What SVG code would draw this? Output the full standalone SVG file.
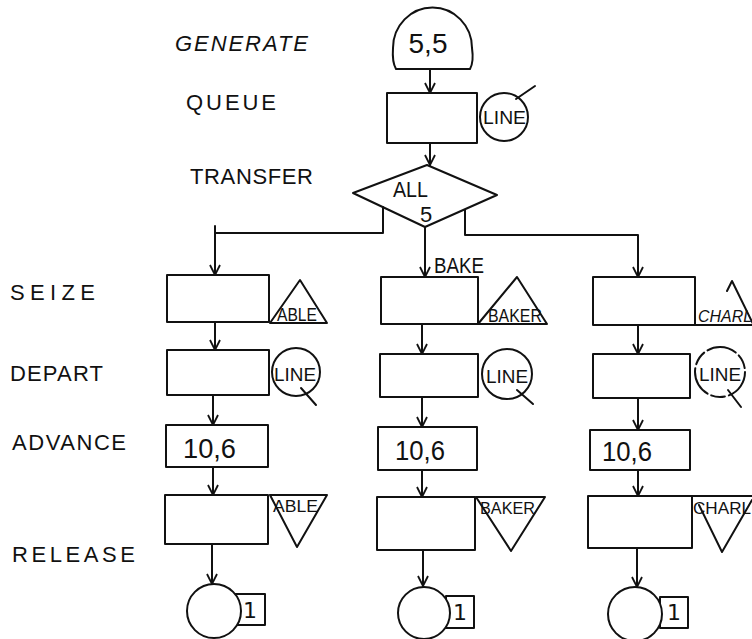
<svg xmlns="http://www.w3.org/2000/svg" width="752" height="639" viewBox="0 0 752 639">
  <defs>
    <marker id="arr" viewBox="0 0 12 12" refX="11" refY="6" markerWidth="12" markerHeight="12" orient="auto" markerUnits="userSpaceOnUse">
      <path d="M1,1 L11,6 L1,11" fill="none" stroke="#111" stroke-width="1.8"/>
    </marker>
    <style>
      .ln { fill: none; stroke: #111; stroke-width: 2; stroke-linejoin: round; stroke-linecap: round; }
      .fl { fill: #fff; stroke: #111; stroke-width: 2; }
      .lab { font-family: "Liberation Sans", "DejaVu Sans", sans-serif; font-size: 22px; fill: #111; }
      .big { font-family: "Liberation Sans", "DejaVu Sans", sans-serif; font-size: 28px; fill: #111; }
      .sm { font-family: "Liberation Sans", "DejaVu Sans", sans-serif; font-size: 18px; fill: #111; }
      .xs { font-family: "Liberation Sans", "DejaVu Sans", sans-serif; font-size: 16px; fill: #111; }
      .one { font-family: "DejaVu Sans", sans-serif; font-size: 22px; fill: #111; text-anchor: middle; }
    </style>
  </defs>
  <rect width="752" height="639" fill="#fff"/>

  <!-- block names down the left -->
  <g id="labels">
    <text class="lab" x="175" y="51" textLength="133" lengthAdjust="spacing" font-style="italic">GENERATE</text>
    <text class="lab" x="186" y="110" textLength="90" lengthAdjust="spacing">QUEUE</text>
    <text class="lab" x="190" y="184" textLength="123" lengthAdjust="spacing">TRANSFER</text>
    <text class="lab" x="10" y="300" textLength="85" lengthAdjust="spacing">SEIZE</text>
    <text class="lab" x="10" y="381" textLength="93" lengthAdjust="spacing">DEPART</text>
    <text class="lab" x="12" y="450" textLength="114" lengthAdjust="spacing">ADVANCE</text>
    <text class="lab" x="12" y="562" textLength="123" lengthAdjust="spacing">RELEASE</text>
  </g>

  <!-- connectors -->
  <g id="connectors" class="ln">
    <path d="M430,69 L430,93" marker-end="url(#arr)"/>
    <path d="M430,143 L430,165" marker-end="url(#arr)"/>
    <!-- TRANSFER branches -->
    <path d="M383,207 L383,233 L215,233 L215,275" marker-end="url(#arr)"/>
    <path d="M215,226 L215,233"/>
    <path d="M425,227 L425,277" marker-end="url(#arr)"/>
    <path d="M465,210 L465,235 L638,235 L638,277" marker-end="url(#arr)"/>
    <!-- left column -->
    <path d="M215,322 L215,350" marker-end="url(#arr)"/>
    <path d="M213,395 L213,425" marker-end="url(#arr)"/>
    <path d="M213,467 L213,495" marker-end="url(#arr)"/>
    <path d="M212,544 L212,584" marker-end="url(#arr)"/>
    <!-- middle column -->
    <path d="M422,324 L422,354" marker-end="url(#arr)"/>
    <path d="M422,397 L422,427" marker-end="url(#arr)"/>
    <path d="M422,470 L422,497" marker-end="url(#arr)"/>
    <path d="M423,550 L423,586" marker-end="url(#arr)"/>
    <!-- right column -->
    <path d="M638,325 L638,354" marker-end="url(#arr)"/>
    <path d="M638,398 L638,430" marker-end="url(#arr)"/>
    <path d="M638,470 L638,496" marker-end="url(#arr)"/>
    <path d="M637,548 L637,587" marker-end="url(#arr)"/>
  </g>

  <!-- GENERATE 5,5 -->
  <g id="generate">
    <path class="ln" d="M396,69 L470,69 Q474,62 472,48 A39,40 0 0 0 393,48 Q392,62 396,69 Z"/>
    <text class="big" x="428" y="53" text-anchor="middle" font-size="31">5,5</text>
  </g>

  <!-- QUEUE LINE -->
  <g id="queue">
    <rect class="ln" x="387" y="93" width="90" height="50"/>
    <circle class="ln" cx="504" cy="117" r="24"/>
    <path class="ln" d="M516,99 L535,86"/>
    <text class="sm" x="483" y="124" font-size="19" textLength="43" lengthAdjust="spacingAndGlyphs">LINE</text>
  </g>

  <!-- TRANSFER ALL 5 -->
  <g id="transfer">
    <path class="ln" d="M427,165 L497,195 L425,227 L353,193 Z"/>
    <text class="lab" x="393" y="197" font-size="21" textLength="35" lengthAdjust="spacingAndGlyphs">ALL</text>
    <text class="lab" x="426" y="222" text-anchor="middle" font-size="25">5</text>
  </g>
  <text class="lab" x="434" y="273" font-size="19" textLength="50" lengthAdjust="spacingAndGlyphs">BAKE</text>

  <!-- SEIZE blocks -->
  <g id="seize-able">
    <rect class="ln" x="167" y="275" width="102" height="47"/>
    <path class="ln" d="M270,323 L300,280 L327,323 Z"/>
    <text class="sm" x="277" y="321" textLength="40" lengthAdjust="spacingAndGlyphs">ABLE</text>
  </g>
  <g id="seize-baker">
    <rect class="ln" x="381" y="277" width="97" height="47"/>
    <path class="ln" d="M478,324 L517,277 L547,324 Z"/>
    <text class="sm" x="488" y="322" textLength="54" lengthAdjust="spacingAndGlyphs">BAKER</text>
  </g>
  <g id="seize-charl">
    <rect class="ln" x="593" y="277" width="102" height="48"/>
    <path class="ln" d="M695,325 L752,325"/>
    <path class="ln" d="M727,291 L732,281 L756,330"/>
    <text class="xs" x="698" y="322" font-style="italic" textLength="54" lengthAdjust="spacingAndGlyphs">CHARL</text>
  </g>

  <!-- DEPART blocks -->
  <g id="depart-1">
    <rect class="ln" x="167" y="350" width="102" height="45"/>
    <circle class="ln" cx="296" cy="372" r="24"/>
    <path class="ln" d="M301,388 L316,405"/>
    <text class="sm" x="274" y="381" textLength="42" lengthAdjust="spacingAndGlyphs">LINE</text>
  </g>
  <g id="depart-2">
    <rect class="ln" x="380" y="354" width="98" height="43"/>
    <circle class="ln" cx="507" cy="374" r="25"/>
    <path class="ln" d="M517,390 L533,404"/>
    <text class="sm" x="486" y="383" textLength="42" lengthAdjust="spacingAndGlyphs">LINE</text>
  </g>
  <g id="depart-3">
    <rect class="ln" x="593" y="354" width="97" height="44"/>
    <circle class="ln" cx="720" cy="372" r="25" stroke-dasharray="30 4 14 4"/>
    <path class="ln" d="M728,390 L741,407"/>
    <text class="sm" x="699" y="381" textLength="42" lengthAdjust="spacingAndGlyphs">LINE</text>
  </g>

  <!-- ADVANCE blocks -->
  <g id="advance-1">
    <rect class="ln" x="166" y="425" width="102" height="42"/>
    <text class="big" x="183" y="458" textLength="53" lengthAdjust="spacingAndGlyphs">10,6</text>
  </g>
  <g id="advance-2">
    <rect class="ln" x="378" y="427" width="99" height="43"/>
    <text class="big" x="395" y="460" textLength="50" lengthAdjust="spacingAndGlyphs">10,6</text>
  </g>
  <g id="advance-3">
    <rect class="ln" x="590" y="430" width="100" height="40"/>
    <text class="big" x="602" y="461" textLength="50" lengthAdjust="spacingAndGlyphs">10,6</text>
  </g>

  <!-- RELEASE blocks -->
  <g id="release-able">
    <rect class="ln" x="165" y="495" width="103" height="49"/>
    <path class="ln" d="M270,495 L327,495 L297,547 Z"/>
    <text class="xs" x="273" y="512" textLength="45" lengthAdjust="spacingAndGlyphs">ABLE</text>
  </g>
  <g id="release-baker">
    <rect class="ln" x="377" y="497" width="98" height="53"/>
    <path class="ln" d="M476,497 L545,497 L511,551 Z"/>
    <text class="xs" x="480" y="514" textLength="55" lengthAdjust="spacingAndGlyphs">BAKER</text>
  </g>
  <g id="release-charl">
    <rect class="ln" x="588" y="496" width="104" height="52"/>
    <path class="ln" d="M692,496 L752,496 M699,505 L722,552 L752,500"/>
    <text class="xs" x="693" y="514" textLength="58" lengthAdjust="spacingAndGlyphs">CHARL</text>
  </g>

  <!-- TERMINATE 1 -->
  <g id="terminate-1">
    <rect class="ln" x="235" y="594" width="30" height="31"/>
    <circle class="fl" cx="214" cy="611" r="27"/>
    <text class="one" x="250" y="618">1</text>
  </g>
  <g id="terminate-2">
    <rect class="ln" x="446" y="596" width="28" height="32"/>
    <circle class="fl" cx="424" cy="613" r="26"/>
    <text class="one" x="460" y="620">1</text>
  </g>
  <g id="terminate-3">
    <rect class="ln" x="660" y="597" width="28" height="31"/>
    <circle class="fl" cx="635" cy="614" r="27"/>
    <text class="one" x="674" y="620">1</text>
  </g>
</svg>
